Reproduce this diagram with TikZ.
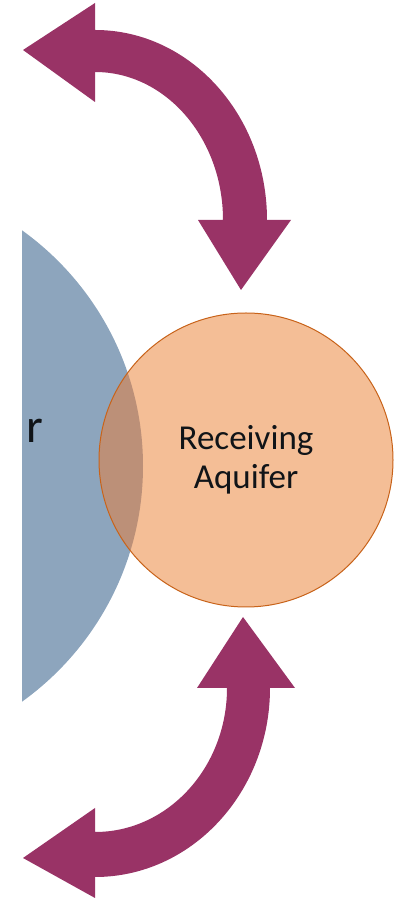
\documentclass[tikz,border=0pt]{standalone}
\usepackage{fontspec}
\setmainfont{Carlito}
\usetikzlibrary{positioning}
\definecolor{flow}{HTML}{993366}
\definecolor{pool}{HTML}{8DA5BD}
\definecolor{peach}{HTML}{F4BE96}
\definecolor{rust}{HTML}{C8631A}
\definecolor{blend}{HTML}{BC9078}
\definecolor{ink}{HTML}{101418}
\tikzset{aquifer/.style={circle,inner sep=0pt,align=center,text=ink},
  band/.style={fill=flow},
  rim/.style={draw=rust,line width=1pt}}
\begin{document}
\begin{tikzpicture}[x=1pt,y=1pt]
\useasboundingbox (0,0) rectangle (406,900);
% source aquifer, cut off at the left
\begin{scope}
\clip (22,0) rectangle (406,900);
\node[aquifer,fill=pool,minimum size=580pt] (src) at (-147,434) {};
\end{scope}
\node[anchor=base west,inner sep=0pt,text=ink,font=\fontsize{48}{58}\selectfont] (srctext) at (26,457) {r};
% receiving aquifer
\node[aquifer,fill=peach,minimum size=294pt,font=\fontsize{35}{39}\selectfont] (recv) at (246,440) {Receiving\\Aquifer};
\begin{scope}
\clip (src.center) circle[radius=290];
\fill[blend] (recv.center) circle[radius=147];
\end{scope}
\draw[rim] (recv.center) circle[radius=147];
% upper exchange arrow
\fill[band] (95,870) -- (95,897) -- (23,850) -- (95,798) -- (95,828)
  arc[start angle=90,end angle=0,x radius=128,y radius=148]
  -- (198,680) -- (241,610) -- (291,680) -- (267,680)
  arc[start angle=0,end angle=90,x radius=172,y radius=190] -- cycle;
% lower exchange arrow
\fill[band] (227,212) -- (197,212) -- (243,283) -- (295,212) -- (270,212)
  arc[start angle=0,end angle=-90,x radius=175,y radius=189]
  -- (95,2) -- (23,42) -- (95,92) -- (95,68)
  arc[start angle=-90,end angle=0,x radius=132,y radius=144] -- cycle;
\end{tikzpicture}
\end{document}
